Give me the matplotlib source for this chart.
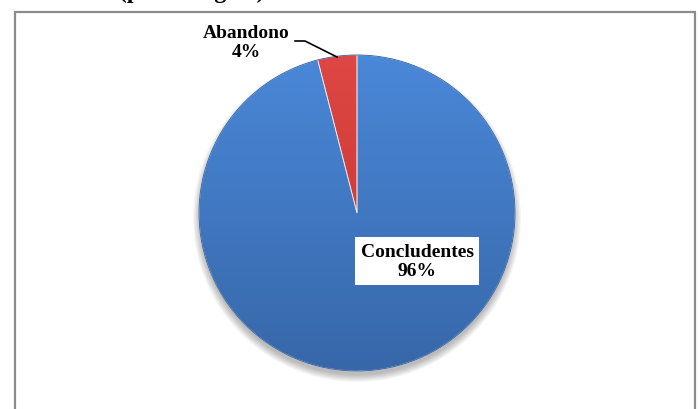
import numpy as np
import matplotlib.pyplot as plt
from matplotlib.colors import to_rgb
from matplotlib.patches import Rectangle, Circle

labels = ['Concludentes', 'Abandono']
values = [96, 4]
title = '(percentagem)'

W, H = 698, 410
fig = plt.figure(figsize=(W / 100, H / 100), dpi=100)
ax = fig.add_axes([0, 0, 1, 1])

cx, cy, r = 357, H - 214, 158

# soft shadow under the pie
for k in range(8):
    ax.add_patch(Circle((cx, cy - 5), r + 6 - k, color='#000000', alpha=0.035, lw=0, zorder=1))

wedges, _ = ax.pie(values, startangle=90, counterclock=False, center=(cx, cy), radius=r,
                   colors=['#4785D3', '#D8413F'],
                   wedgeprops=dict(edgecolor='white', linewidth=0.6))

# vertical gradient inside each wedge
grads = [('#4A88D8', '#3767A9'), ('#DE4743', '#C4332F')]
for w, (c1, c2) in zip(wedges, grads):
    w.set_zorder(2)
    a = np.array(to_rgb(c1))
    b = np.array(to_rgb(c2))
    t = np.linspace(0, 1, 256)[:, None]
    img = (a * (1 - t) + b * t)[:, None, :]
    im = ax.imshow(img, extent=[cx - r, cx + r, cy - r, cy + r], origin='upper',
                   aspect='auto', zorder=3)
    im.set_clip_path(w)
# thin white separators on top of the gradients
for w in wedges:
    w.set_zorder(4)
    w.set_facecolor('none')
    w.set_edgecolor((1, 1, 1, 0.7))
ax.add_patch(Circle((cx, cy), r, fill=False, ec='#31609E', lw=0.6, zorder=4))

ax.set_xlim(0, W)
ax.set_ylim(0, H)
ax.set_aspect('auto')
ax.axis('off')

# chart frame
ax.add_patch(Rectangle((15, -10), 680, H - 13 + 10, fill=False, ec='#8C8C8C', lw=1.6, zorder=5))

font = dict(family='Liberation Serif', weight='bold', fontsize=14)
# title is cut by the top edge in the original picture
ax.text(192, H + 2, title, ha='center', va='baseline', family='Liberation Serif',
        weight='bold', fontsize=17, zorder=6)

ax.text(246, H - 43, f'{labels[1]}\n{values[1]}%', ha='center', va='center',
        linespacing=1.2, zorder=6, **font)
ax.plot([295, 305, 337], [H - 42, H - 42, H - 58], color='black', lw=1.2, zorder=6)

ax.text(417, H - 262, f'{labels[0]}\n{values[0]}%', ha='center', va='center',
        linespacing=1.2, zorder=6,
        bbox=dict(boxstyle='square,pad=0.3', fc='white', ec='none'), **font)

fig.savefig('out.png', dpi=100)
